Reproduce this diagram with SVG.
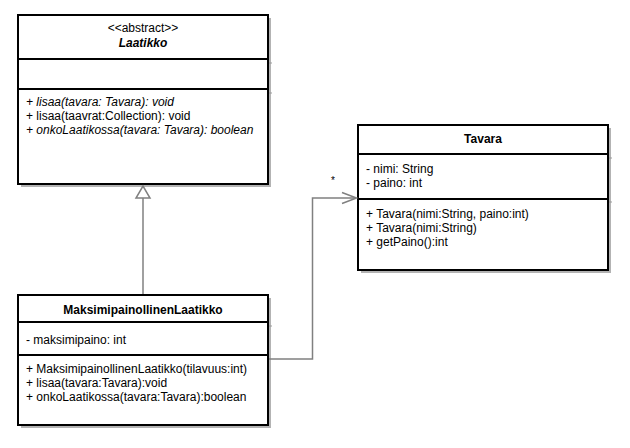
<svg xmlns="http://www.w3.org/2000/svg" width="630" height="448" viewBox="0 0 630 448">
<style>
text{font-family:"Liberation Sans",Arial,sans-serif;font-size:12px;fill:#000}
.c{text-anchor:middle}
.b{font-weight:bold}
.i{font-style:italic}
.box{fill:#fff;stroke:#000;stroke-width:2}
.sh{fill:#b3b3b3}
.shl{stroke:#999;stroke-width:1}
.div{stroke:#000;stroke-width:2}
.conn{fill:none;stroke:#808080;stroke-width:1.5}
</style>
<rect width="630" height="448" fill="#fff"/>
<g id="Laatikko">
<rect class="sh" x="21" y="18" width="250" height="169"/>
<line class="shl" x1="268" y1="63" x2="272" y2="63"/>
<line class="shl" x1="268" y1="93" x2="272" y2="93"/>
<rect class="box" x="18" y="15" width="250" height="169"/>
<line class="div" x1="18" y1="59" x2="268" y2="59"/>
<line class="div" x1="18" y1="89" x2="268" y2="89"/>
<text class="c" x="143" y="32">&lt;&lt;abstract&gt;&gt;</text>
<text class="c b i" x="143" y="47">Laatikko</text>
<text class="i" x="26" y="106">+ lisaa(tavara: Tavara): void</text>
<text x="26" y="120">+ lisaa(taavrat:Collection): void</text>
<text class="i" x="26" y="134">+ onkoLaatikossa(tavara: Tavara): boolean</text>
</g>
<g id="MaksimipainollinenLaatikko">
<rect class="sh" x="21" y="298" width="250" height="130"/>
<line class="shl" x1="268" y1="326" x2="272" y2="326"/>
<rect class="box" x="18" y="295" width="250" height="130"/>
<line class="div" x1="18" y1="322" x2="268" y2="322"/>
<line class="div" x1="18" y1="355" x2="268" y2="355"/>
<text class="c b" x="143" y="314">MaksimipainollinenLaatikko</text>
<text x="26" y="344">- maksimipaino: int</text>
<text x="26" y="373">+ MaksimipainollinenLaatikko(tilavuus:int)</text>
<text x="26" y="387">+ lisaa(tavara:Tavara):void</text>
<text x="26" y="401">+ onkoLaatikossa(tavara:Tavara):boolean</text>
</g>
<g id="Tavara">
<rect class="sh" x="361" y="128" width="250" height="145"/>
<line class="shl" x1="608" y1="158" x2="612" y2="158"/>
<line class="shl" x1="608" y1="202" x2="612" y2="202"/>
<rect class="box" x="358" y="125" width="250" height="145"/>
<line class="div" x1="358" y1="154" x2="608" y2="154"/>
<line class="div" x1="358" y1="199" x2="608" y2="199"/>
<text class="c b" x="483" y="143">Tavara</text>
<text x="366" y="173">- nimi: String</text>
<text x="366" y="187">- paino: int</text>
<text x="366" y="218">+ Tavara(nimi:String, paino:int)</text>
<text x="366" y="232">+ Tavara(nimi:String)</text>
<text x="366" y="246">+ getPaino():int</text>
</g>
<g id="connectors">
<line class="conn" x1="143" y1="198" x2="143" y2="294"/>
<polygon points="136,198 150,198 143,186" fill="#fff" stroke="#808080" stroke-width="1.5"/>
<path class="conn" d="M269,359 H312.5 V198 H356"/>
<polyline class="conn" points="342,192.5 356.5,198 342,203.5"/>
<text x="331" y="184" style="font-size:10px">*</text>
</g>
</svg>
